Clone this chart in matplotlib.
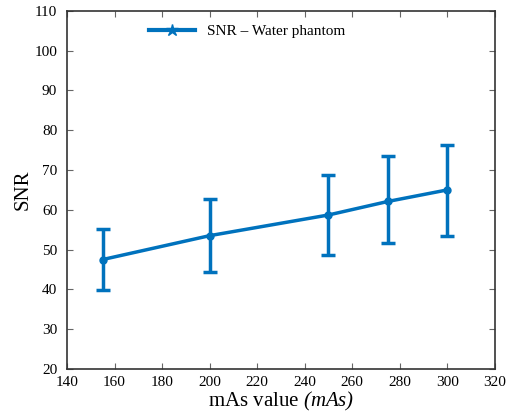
import numpy as np
import matplotlib
matplotlib.use('Agg')
import matplotlib.pyplot as plt

# values
mas = [155, 200, 250, 275, 300]
snr = [47.5, 53.5, 58.7, 62.1, 65.0]
snr_upper = [55.2, 62.7, 68.8, 73.4, 76.3]
snr_lower = [39.9, 44.3, 48.7, 51.6, 53.3]

xticks = list(range(140, 321, 20))
yticks = list(range(20, 111, 10))

plt.rcParams['font.family'] = ['Liberation Serif', 'DejaVu Serif']
# only the x label uses mathtext: make it all italic, brackets included
plt.rcParams['mathtext.fontset'] = 'custom'
plt.rcParams['mathtext.it'] = 'Liberation Serif:italic'
plt.rcParams['mathtext.rm'] = 'Liberation Serif:italic'

snr = np.array(snr)
yerr = [snr - np.array(snr_lower), np.array(snr_upper) - snr]

fig = plt.figure(figsize=(5.15, 4.16), dpi=100)
ax = fig.add_axes([0.130, 0.113, 0.831, 0.861])

color = '#0072BD'
ax.errorbar(mas, snr, yerr=yerr, color=color, linewidth=2.5, marker='o',
            markersize=5, elinewidth=2.5, capsize=5, capthick=2.5)
# legend entry: line + marker only
ax.plot([], [], color=color, linewidth=3, marker='*', markersize=9,
        label='SNR – Water phantom')

ax.set_xlim(140, 320)
ax.set_ylim(20, 110)
ax.set_xticks(xticks)
ax.set_yticks(yticks)
ax.tick_params(direction='in', top=True, right=True, labelsize=11, length=4,
               color='#666666', width=0.8)
ax.tick_params(axis='y', pad=7)
ax.tick_params(axis='x', pad=5)
for s in ax.spines.values():
    s.set_color('#333333')
    s.set_linewidth(1.2)

ax.set_xlabel('mAs value $\\mathit{(mAs)}$', fontsize=15, labelpad=1)
ax.set_ylabel('SNR', fontsize=15, labelpad=1)

ax.legend(loc='upper left', bbox_to_anchor=(0.16, 1.0), frameon=False,
          fontsize=11, handlelength=3)

fig.savefig('out.png', dpi=100)
